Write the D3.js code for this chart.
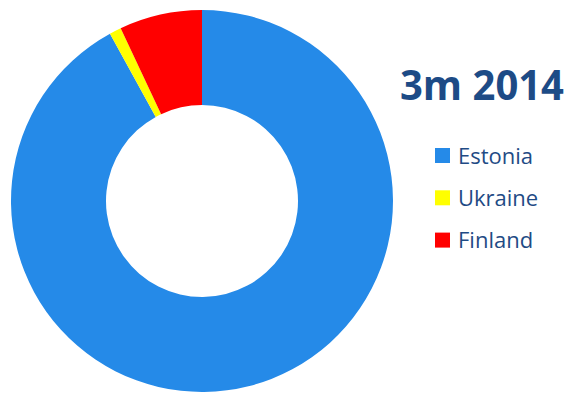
<!DOCTYPE html>
<html>
<head>
<meta charset="utf-8">
<script src="https://cdn.jsdelivr.net/npm/d3@7"></script>
<style>
  html, body { margin: 0; padding: 0; background: #fff; }
  svg { display: block; }
</style>
</head>
<body>
<svg id="chart" width="573" height="393"></svg>
<script>
// Share by country, first three months of 2014
const categories = ["Estonia", "Ukraine", "Finland"];
const values = [92, 1, 7];
const colors = ["#258AE8", "#FFFF00", "#FF0000"];
const title = "3m 2014";

const svg = d3.select("#chart");
const cx = 202, cy = 201, outerR = 191, innerR = 96;

const pie = d3.pie().sort(null).value(d => d.value);
const arc = d3.arc().innerRadius(innerR).outerRadius(outerR);
const color = d3.scaleOrdinal().domain(categories).range(colors);

const data = categories.map((c, i) => ({ name: c, value: values[i] }));

svg.append("g")
  .attr("transform", `translate(${cx},${cy})`)
  .selectAll("path")
  .data(pie(data))
  .join("path")
  .attr("d", arc)
  .attr("fill", d => color(d.data.name));

svg.append("text")
  .attr("x", 400)
  .attr("y", 100)
  .attr("font-family", "Open Sans, sans-serif")
  .attr("font-weight", "bold")
  .attr("font-size", 42)
  .attr("textLength", 164)
  .attr("lengthAdjust", "spacingAndGlyphs")
  .attr("fill", "#1D4B86")
  .text(title);

const legend = svg.append("g")
  .selectAll("g")
  .data(categories)
  .join("g")
  .attr("transform", (d, i) => `translate(435,${148 + i * 42.3})`);

legend.append("rect")
  .attr("width", 15)
  .attr("height", 15)
  .attr("fill", d => color(d));

legend.append("text")
  .attr("x", 23)
  .attr("y", 15.5)
  .attr("font-family", "Open Sans, sans-serif")
  .attr("font-size", 22)
  .attr("fill", "#1F4B85")
  .text(d => d);
</script>
</body>
</html>
